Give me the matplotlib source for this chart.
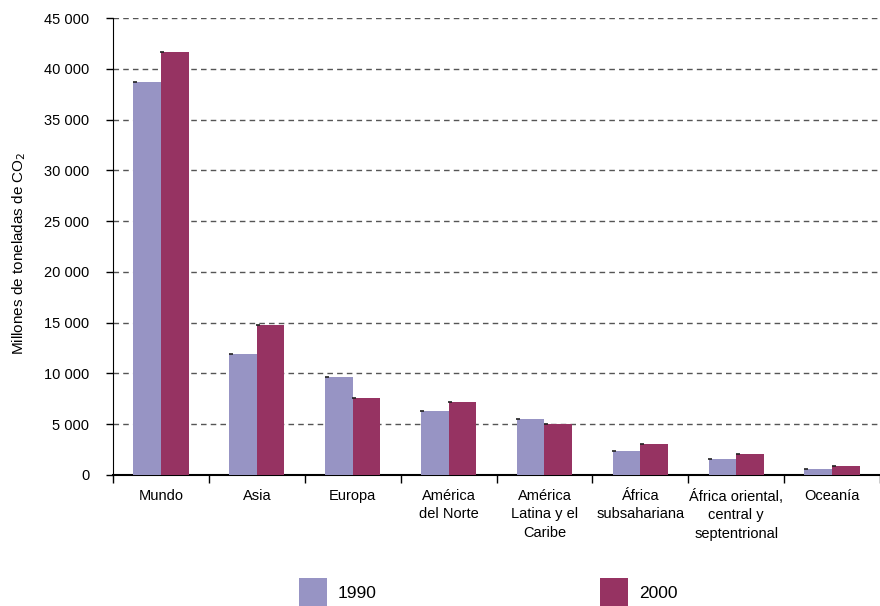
import matplotlib
matplotlib.use("Agg")
import matplotlib.pyplot as plt
from matplotlib.patches import Rectangle
import numpy as np

plt.rcParams['font.family'] = ['Liberation Sans', 'DejaVu Sans']

categories = ["Mundo", "Asia", "Europa", "América\ndel Norte", "América\nLatina y el\nCaribe",
              "África\nsubsahariana", "África oriental,\ncentral y\nseptentrional", "Oceanía"]
series_names = ["1990", "2000"]
v1990 = [38700, 11900, 9650, 6300, 5500, 2330, 1550, 590]
v2000 = [41650, 14800, 7580, 7190, 5020, 3050, 2100, 890]
yticks = [0, 5000, 10000, 15000, 20000, 25000, 30000, 35000, 40000, 45000]
ytick_labels = ["0", "5 000", "10 000", "15 000", "20 000", "25 000", "30 000", "35 000", "40 000", "45 000"]

c1990 = "#9794C4"
c2000 = "#963362"

W, H = 880, 606
fig = plt.figure(figsize=(W/100, H/100), dpi=100)
ax = fig.add_axes([113/W, 1 - 475/H, (880-113)/W, (475-18)/H])

x = np.arange(len(categories))
bw = 0.288
ax.bar(x - bw/2, v1990, width=bw, color=c1990, zorder=3)
ax.bar(x + bw/2, v2000, width=bw, color=c2000, zorder=3)
# tiny dark marks at the top-left corner of each bar
ax.plot(x - bw + 0.015, v1990, linestyle="none", marker="_", ms=3, mew=1.2, color="#222222", zorder=4)
ax.plot(x + 0.015, v2000, linestyle="none", marker="_", ms=3, mew=1.2, color="#222222", zorder=4)

ax.set_ylim(0, 45000)
ax.set_xlim(-0.5, -0.5 + (880-113)/97.0)
ax.set_yticks(yticks)
ax.set_yticklabels(ytick_labels, fontsize=10.5)
for y in yticks[1:]:
    ax.axhline(y, color="#555555", linestyle=(0, (4, 3)), linewidth=1, zorder=1)

ax.set_xticks(np.arange(len(categories) + 1) - 0.5)
ax.set_xticklabels([])
ax.set_xticks(x, minor=True)
ax.set_xticklabels(categories, minor=True, fontsize=10.5, linespacing=1.4, va="top")
ax.tick_params(axis="x", which="minor", length=0, pad=10)
ax.tick_params(axis="x", which="major", length=6, direction="out", color="black", width=1)
ax.tick_params(axis="y", length=5, direction="out", color="black", width=1, pad=12)

for s in ["top", "right"]:
    ax.spines[s].set_visible(False)
ax.spines["left"].set_color("black")
ax.spines["bottom"].set_color("black")
ax.spines["bottom"].set_linewidth(1.5)

fig.text(19/W, 1 - 253/H, "Millones de toneladas de CO$_{2}$", rotation=90, ha="center", va="center", fontsize=11)

# legend
for xpx, col, lab in [(299, c1990, series_names[0]), (600, c2000, series_names[1])]:
    fig.add_artist(Rectangle((xpx/W, 1 - 620/H), 28/W, 42/H, transform=fig.transFigure,
                             facecolor=col, edgecolor="none"))
    fig.text((xpx + 39)/W, 1 - 593/H, lab, ha="left", va="center", fontsize=12.5)

fig.savefig("out.png", dpi=100)
